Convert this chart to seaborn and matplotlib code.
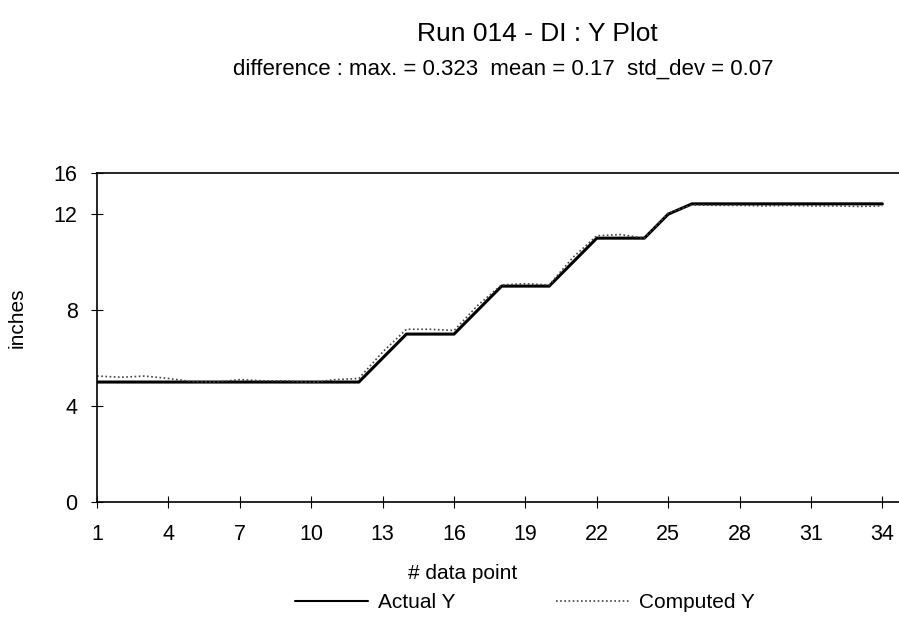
import numpy as np
import pandas as pd
import matplotlib
matplotlib.use("Agg")
import matplotlib.pyplot as plt
import seaborn as sns

# data
data_point = list(range(1, 35))
actual_y = [5, 5, 5, 5, 5, 5, 5, 5, 5, 5, 5, 5,
            6, 7, 7, 7, 8, 9, 9, 9, 10, 11, 11, 11, 12,
            13, 13, 13, 13, 13, 13, 13, 13, 13]
computed_y = [5.25, 5.2, 5.25, 5.15, 5.02, 5.0, 5.1, 5.05, 5.05, 4.98, 5.1, 5.15,
              6.25, 7.2, 7.2, 7.15, 8.2, 9.05, 9.1, 9.05, 10.2, 11.1, 11.15, 11.0, 12.1,
              12.9, 12.85, 12.85, 12.8, 12.85, 12.8, 12.8, 12.75, 12.8]
x_ticks = [1, 4, 7, 10, 13, 16, 19, 22, 25, 28, 31, 34]
y_ticks = [0, 4, 8, 12, 16]

df = pd.DataFrame({"point": data_point, "Actual Y": actual_y, "Computed Y": computed_y})
long_df = df.melt(id_vars="point", var_name="series", value_name="inches")

sns.set_style("ticks")
plt.rcParams["font.family"] = ["Liberation Sans", "DejaVu Sans"]
plt.rcParams["text.color"] = "black"
plt.rcParams["xtick.color"] = "black"
plt.rcParams["ytick.color"] = "black"
plt.rcParams["axes.labelcolor"] = "black"

fig = plt.figure(figsize=(8.99, 6.22), dpi=100)
ax = fig.add_axes([0.108, 0.193, 0.892, 0.529])

sns.lineplot(data=long_df, x="point", y="inches", hue="series", style="series",
             palette={"Actual Y": "black", "Computed Y": "#444444"},
             dashes={"Actual Y": "", "Computed Y": (1, 1.5)},
             ax=ax, legend=False)
ax.lines[0].set_linewidth(2.2)
ax.lines[1].set_linewidth(1.2)

# the top band (12-16) is squeezed in the original scan
def fwd(y):
    y = np.asarray(y, dtype=float)
    return np.where(y <= 12, y, 12 + (y - 12) * 0.43)

def inv(y):
    y = np.asarray(y, dtype=float)
    return np.where(y <= 12, y, 12 + (y - 12) / 0.43)

ax.set_yscale("function", functions=(fwd, inv))
ax.set_ylim(0, 16)
ax.set_xlim(1, 34.7)
ax.set_xticks(x_ticks)
ax.set_yticks(y_ticks)
ax.tick_params(bottom=True, left=True, direction="inout", length=8, width=0.8,
               labelsize=15.5, colors="black")
ax.tick_params(axis="x", pad=12)
ax.tick_params(axis="y", pad=10)

for side in ["left", "bottom", "top"]:
    ax.spines[side].set_visible(True)
    ax.spines[side].set_color("black")
    ax.spines[side].set_linewidth(1.2)
ax.spines["right"].set_visible(False)

ax.set_xlabel("# data point", fontsize=15)
ax.set_ylabel("inches", fontsize=15)
ax.xaxis.set_label_coords(0.456, -0.19)
ax.yaxis.set_label_coords(-0.088, 0.56)

fig.text(0.598, 0.945, "Run 014 - DI : Y Plot", ha="center", va="center", fontsize=19)
fig.text(0.56, 0.888, "difference : max. = 0.323  mean = 0.17  std_dev = 0.07",
         ha="center", va="center", fontsize=16)

handles = [plt.Line2D([], [], color="black", lw=1.5),
           plt.Line2D([], [], color="#444444", lw=1.2, linestyle=(0, (1, 1.5)))]
fig.legend(handles, ["Actual Y", "Computed Y"], loc="center", ncol=2,
           bbox_to_anchor=(0.584, 0.031), frameon=False, fontsize=15,
           handlelength=3.5, columnspacing=4.8, handletextpad=0.5)

fig.savefig("out.png", dpi=100)
